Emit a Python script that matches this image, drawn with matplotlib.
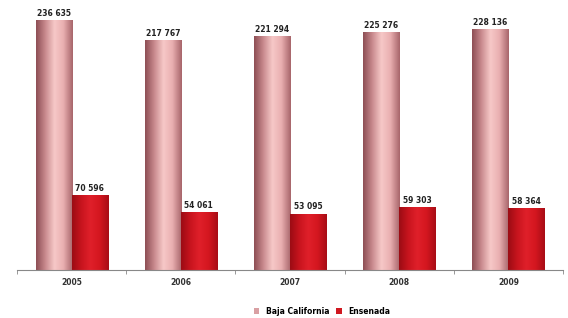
import matplotlib
matplotlib.use("Agg")
import matplotlib.pyplot as plt
import numpy as np
from matplotlib.colors import LinearSegmentedColormap
from matplotlib.patches import Rectangle

years = ["2005", "2006", "2007", "2008", "2009"]
baja = [236635, 217767, 221294, 225276, 228136]
ensenada = [70596, 54061, 53095, 59303, 58364]
baja_labels = ["236 635", "217 767", "221 294", "225 276", "228 136"]
ens_labels = ["70 596", "54 061", "53 095", "59 303", "58 364"]

fig = plt.figure(figsize=(5.68, 3.18), dpi=100)
ax = fig.add_axes([17/568, 1 - 270/318, 546/568, 270/318])

x = np.arange(len(years))
w = 0.33
b1 = ax.bar(x - 0.165, baja, w, color="none", edgecolor="none", label="Baja California")
b2 = ax.bar(x + 0.165, ensenada, w, color="none", edgecolor="none", label="Ensenada")

pink = LinearSegmentedColormap.from_list("pink", ["#8e4f55", "#c98a8e", "#f7c9c8", "#e9aeb0", "#a8666b"])
red = LinearSegmentedColormap.from_list("red", ["#9c0c14", "#c8141e", "#e0202a", "#d4161f", "#a80d16"])
grad = np.linspace(0, 1, 64).reshape(1, -1)
for bars, cmap in ((b1, pink), (b2, red)):
    for p in bars:
        x0, y0 = p.get_x(), p.get_y()
        ww, hh = p.get_width(), p.get_height()
        ax.imshow(grad, cmap=cmap, aspect="auto", extent=(x0, x0 + ww, y0, y0 + hh),
                  zorder=2, interpolation="bicubic")

for p, t in zip(b1, baja_labels):
    ax.text(p.get_x() + p.get_width() / 2, p.get_height() + 2500, t, ha="center", va="bottom",
            fontsize=5.5, fontweight="bold", color="#222222")
for p, t in zip(b2, ens_labels):
    ax.text(p.get_x() + p.get_width() / 2, p.get_height() + 2500, t, ha="center", va="bottom",
            fontsize=5.5, fontweight="bold", color="#222222")

ax.set_xlim(-0.5, len(years) - 0.5)
ax.set_ylim(0, 256000)
for s in ("top", "right", "left"):
    ax.spines[s].set_visible(False)
ax.spines["bottom"].set_color("#888888")
ax.spines["bottom"].set_linewidth(0.8)
ax.set_yticks([])
ax.set_xticks(x)
ax.set_xticklabels(years, fontsize=5.5, fontweight="bold", color="#333333")
ax.tick_params(axis="x", length=0, pad=6)
ax.set_xticks(np.arange(-0.5, len(years) + 0.5, 1), minor=True)
ax.tick_params(axis="x", which="minor", length=3, color="#888888")

handles = [Rectangle((0, 0), 1, 1, facecolor="#d9a0a3", edgecolor="none"),
           Rectangle((0, 0), 1, 1, facecolor="#d01820", edgecolor="none")]
fig.legend(handles, ["Baja California", "Ensenada"], loc="center", bbox_to_anchor=(322/568, 1 - 311/318),
           ncol=2, frameon=False, prop={"size": 5.5, "weight": "bold"}, handlelength=0.7, handleheight=0.8,
           columnspacing=0.9, handletextpad=0.9)

fig.savefig("out.png", dpi=100)
